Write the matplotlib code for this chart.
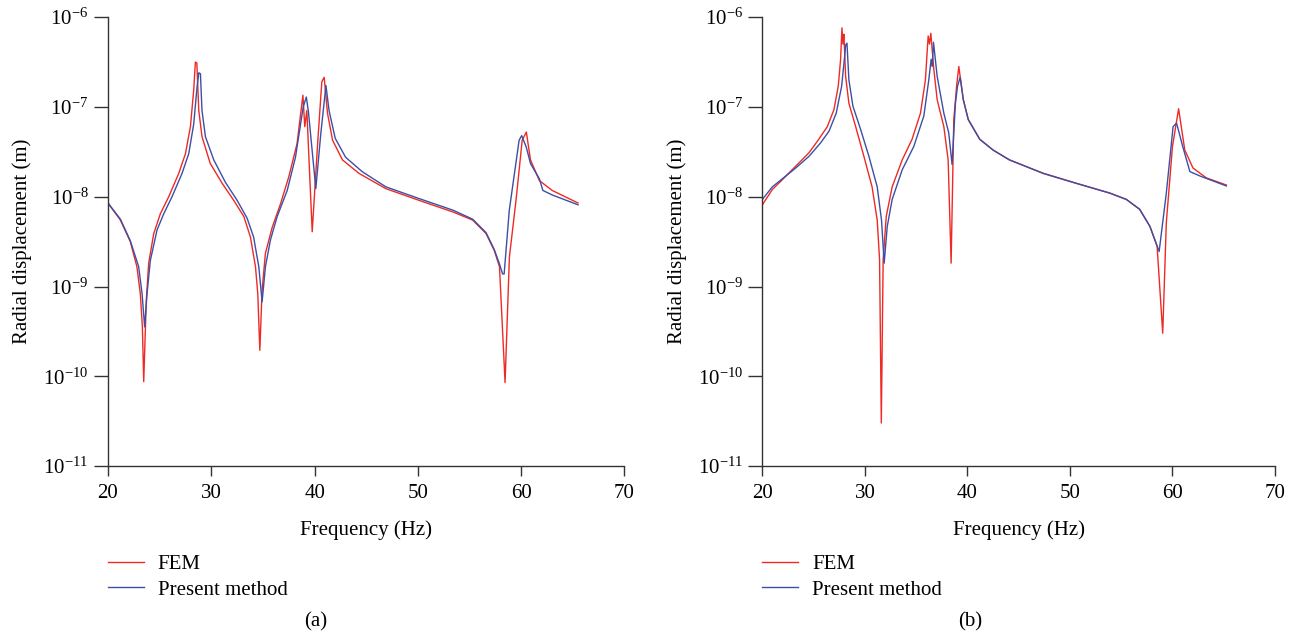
import numpy as np
from matplotlib import pyplot as plt

# values: frequency (Hz) and log10 of radial displacement (m)
fem_a_freq = [20.0, 21.2, 22.16, 22.8, 23.13, 23.33, 23.46, 23.71, 23.94, 24.43, 25.07, 25.88,
              26.85, 27.5, 27.98, 28.3, 28.46, 28.6, 28.79, 29.1, 29.9, 31.05, 32.17, 33.15,
              33.79, 34.28, 34.5, 34.7, 34.92, 35.24, 35.9, 36.7, 37.5, 38.3, 38.87, 39.05,
              39.25, 39.77, 40.3, 40.7, 40.93, 41.25, 41.74, 42.7, 44.3, 46.9, 50.1, 53.4,
              55.3, 56.6, 57.4, 57.9, 58.44, 58.86, 59.5, 60.1, 60.5, 60.9, 61.76, 63.0, 65.5]
fem_a_exp = [-8.07, -8.26, -8.50, -8.78, -9.08, -9.45, -10.06, -9.15, -8.74, -8.41, -8.19, -8.00,
             -7.74, -7.52, -7.22, -6.81, -6.50, -6.51, -7.04, -7.33, -7.63, -7.85, -8.04, -8.22,
             -8.45, -8.78, -9.08, -9.71, -9.04, -8.63, -8.34, -8.08, -7.78, -7.41, -6.87, -7.22,
             -7.04, -8.39, -7.40, -6.72, -6.67, -7.07, -7.37, -7.59, -7.74, -7.91, -8.04, -8.17,
             -8.26, -8.41, -8.60, -8.78, -10.07, -8.67, -8.04, -7.37, -7.28, -7.59, -7.82, -7.93, -8.07]

pm_a_freq = [20.0, 21.2, 22.16, 22.97, 23.3, 23.55, 23.78, 24.1, 24.75, 25.4, 26.2, 27.17,
             27.82, 28.3, 28.62, 28.79, 28.95, 29.1, 29.43, 30.24, 31.37, 32.5, 33.47, 34.1,
             34.6, 34.92, 35.24, 35.73, 36.38, 37.35, 38.15, 38.9, 39.2, 39.4, 40.12, 40.6,
             41.1, 41.4, 42.0, 43.0, 44.6, 46.9, 50.1, 53.4, 55.3, 56.6, 57.4, 57.9,
             58.2, 58.35, 58.85, 59.8, 60.05, 60.5, 60.9, 61.76, 62.1, 63.0, 65.5]
pm_a_exp = [-8.07, -8.25, -8.49, -8.78, -9.08, -9.45, -9.08, -8.71, -8.37, -8.19, -8.00, -7.74,
            -7.52, -7.19, -6.78, -6.62, -6.63, -7.04, -7.33, -7.59, -7.84, -8.04, -8.24, -8.45,
            -8.78, -9.17, -8.78, -8.48, -8.22, -7.93, -7.56, -7.00, -6.89, -7.05, -7.91, -7.30,
            -6.76, -7.04, -7.35, -7.56, -7.72, -7.89, -8.02, -8.15, -8.25, -8.40, -8.59, -8.75,
            -8.86, -8.86, -8.15, -7.37, -7.32, -7.45, -7.63, -7.80, -7.93, -7.98, -8.09]

fem_b_freq = [20.0, 20.97, 21.95, 23.25, 24.55, 25.5, 26.33, 26.98, 27.4, 27.63, 27.76, 27.86,
              27.95, 28.12, 28.44, 29.1, 29.9, 30.7, 31.2, 31.43, 31.6, 31.78, 32.08, 32.66,
              33.64, 34.6, 35.42, 35.9, 36.17, 36.3, 36.43, 36.72, 37.05, 37.7, 38.12, 38.41,
              38.67, 38.96, 39.16, 39.6, 40.08, 41.2, 42.5, 44.1, 47.4, 50.6, 53.9, 55.5,
              56.8, 57.8, 58.5, 59.05, 59.4, 60.0, 60.6, 61.2, 62.0, 63.3, 65.26]
fem_b_exp = [-8.09, -7.92, -7.81, -7.66, -7.51, -7.36, -7.22, -7.03, -6.77, -6.47, -6.12, -6.30,
             -6.19, -6.66, -6.96, -7.22, -7.55, -7.89, -8.26, -8.70, -10.52, -8.70, -8.22, -7.89,
             -7.59, -7.36, -7.07, -6.70, -6.21, -6.30, -6.18, -6.58, -6.92, -7.22, -7.59, -8.74,
             -7.14, -6.75, -6.55, -6.92, -7.14, -7.36, -7.48, -7.59, -7.74, -7.85, -7.96, -8.03,
             -8.14, -8.33, -8.55, -9.52, -8.29, -7.44, -7.02, -7.48, -7.68, -7.79, -7.87]

pm_b_freq = [20.0, 20.97, 21.95, 23.25, 24.55, 25.68, 26.5, 27.2, 27.73, 28.02, 28.12, 28.25,
             28.44, 28.83, 29.58, 30.39, 31.2, 31.62, 31.88, 32.18, 32.66, 33.64, 34.77, 35.75,
             36.23, 36.46, 36.56, 36.69, 37.05, 37.7, 38.18, 38.5, 38.83, 39.03, 39.29, 39.6,
             40.08, 41.2, 42.5, 44.1, 47.4, 50.6, 53.9, 55.5, 56.8, 57.8, 58.7, 59.4,
             60.06, 60.4, 61.0, 61.7, 62.7, 65.26]
pm_b_exp = [-8.03, -7.89, -7.80, -7.68, -7.55, -7.40, -7.27, -7.07, -6.77, -6.44, -6.31, -6.29,
            -6.70, -6.99, -7.25, -7.55, -7.89, -8.26, -8.74, -8.33, -8.03, -7.70, -7.44, -7.10,
            -6.70, -6.47, -6.55, -6.28, -6.66, -7.07, -7.29, -7.64, -6.96, -6.77, -6.67, -6.92,
            -7.14, -7.36, -7.48, -7.59, -7.74, -7.85, -7.96, -8.03, -8.14, -8.33, -8.61, -7.96,
            -7.22, -7.18, -7.44, -7.72, -7.77, -7.88]

x_ticks = [20, 30, 40, 50, 60, 70]
captions = ["(a)", "(b)"]

plt.rcParams['font.family'] = ['Liberation Serif', 'DejaVu Serif']
plt.rcParams['mathtext.fontset'] = 'custom'
plt.rcParams['mathtext.rm'] = 'Liberation Serif'
plt.rcParams['mathtext.it'] = 'Liberation Serif:italic'
plt.rcParams['font.size'] = 15

red = '#ee2a24'
blue = '#3b4fa6'

fig = plt.figure(figsize=(13.01, 6.35), dpi=100)
ax1 = fig.add_axes([0.083, 0.266, 0.397, 0.707])
ax2 = fig.add_axes([0.586, 0.266, 0.394, 0.707])

panels = [
    (ax1, fem_a_freq, fem_a_exp, pm_a_freq, pm_a_exp, 0.243),
    (ax2, fem_b_freq, fem_b_exp, pm_b_freq, pm_b_exp, 0.746),
]

for (ax, ff, fe, pf, pe, cap_x), cap in zip(panels, captions):
    ax.plot(ff, 10.0 ** np.array(fe), color=red, lw=1.0, label="FEM")
    ax.plot(pf, 10.0 ** np.array(pe), color=blue, lw=1.0, label="Present method")
    ax.set_yscale('log')
    ax.set_ylim(1e-11, 1e-6)
    ax.set_xlim(20, 70)
    ax.set_xticks(x_ticks)
    ax.minorticks_off()
    ax.spines['top'].set_visible(False)
    ax.spines['right'].set_visible(False)
    for s in ['left', 'bottom']:
        ax.spines[s].set_color('#333333')
        ax.spines[s].set_linewidth(1.0)
    ax.tick_params(axis='y', length=10, width=1.0, color='#333333', pad=4)
    ax.tick_params(axis='x', length=7, width=1.0, color='#333333', pad=6)
    ax.set_xlabel("Frequency (Hz)", labelpad=12)
    ax.set_ylabel("Radial displacement (m)", labelpad=8)
    ax.legend(loc='upper left', bbox_to_anchor=(-0.017, -0.178), frameon=False,
              handlelength=1.73, handletextpad=0.67, labelspacing=0.3, borderaxespad=0)
    fig.text(cap_x, 0.005, cap, ha='center', va='bottom')

fig.savefig("out.png", dpi=100)
